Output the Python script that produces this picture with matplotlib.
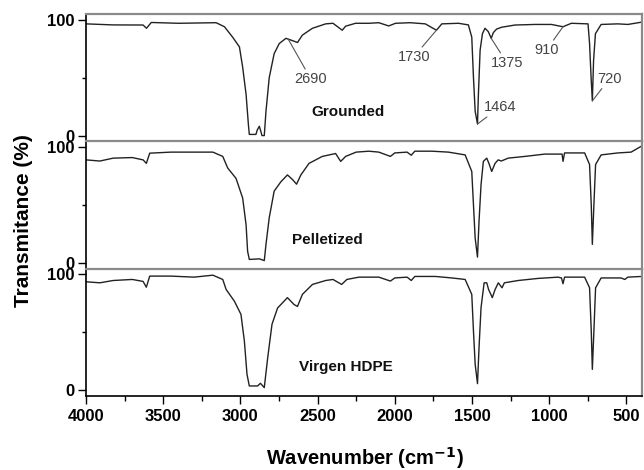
import matplotlib
matplotlib.use("Agg")
import matplotlib.pyplot as plt
from matplotlib.ticker import MultipleLocator
import numpy as np

plt.rcParams['font.family'] = ['Liberation Sans', 'DejaVu Sans']

# FTIR spectra (wavenumber in cm-1, transmittance in %)
wn_grounded = [4000, 3826, 3630, 3608, 3577, 3400, 3157, 3103, 3050, 3006, 2985, 2963,
               2948, 2942, 2899, 2890, 2877, 2866, 2860, 2845, 2834, 2813, 2781, 2748,
               2705, 2662, 2630, 2598, 2533, 2447, 2400, 2340, 2318, 2254, 2168, 2103,
               2039, 1995, 1900, 1802, 1730, 1695, 1587, 1523, 1501, 1490, 1479, 1464,
               1458, 1447, 1432, 1415, 1394, 1375, 1361, 1340, 1307, 1221, 1092, 985,
               910, 856, 748, 738, 728, 720, 712, 700, 663, 555, 490, 400]
tr_grounded = [96.5, 95.6, 95.5, 92.7, 97.7, 97, 97.5, 94, 85, 76.6, 59, 35.7,
               9.6, 1, 1, 5, 8, 3, 0, 0, 21, 50, 70.8, 79.5,
               84, 82, 80.4, 86.8, 92.7, 96.5, 97, 91, 94.5, 97, 97, 97.5,
               94.7, 97, 97.5, 96.5, 91, 96.5, 97, 95.6, 85, 50, 21, 10,
               35.7, 73.7, 88, 92.7, 89.8, 84, 89, 92, 93.6, 95.5, 96, 96,
               94, 97, 96.5, 79.5, 50, 30, 65, 88, 96, 96.5, 96, 98]

wn_pellet = [4000, 3910, 3824, 3700, 3630, 3609, 3587, 3450, 3178, 3114, 3082, 3028,
             2985, 2963, 2953, 2942, 2877, 2845, 2834, 2813, 2781, 2738, 2695, 2662,
             2636, 2608, 2555, 2469, 2383, 2350, 2318, 2250, 2168, 2103, 2028, 2000,
             1920, 1893, 1870, 1759, 1652, 1544, 1501, 1490, 1479, 1464, 1454, 1441,
             1426, 1404, 1390, 1372, 1350, 1330, 1310, 1265, 1157, 1028, 916, 910,
             900, 770, 738, 727, 720, 710, 699, 663, 555, 469, 400]
tr_pellet = [89, 88, 90.5, 91, 89, 86, 94.8, 95.7, 95.7, 92, 82, 73,
             56, 33, 10, 3, 3.5, 2, 16, 39, 62, 70, 76, 72,
             68, 76, 86, 92, 94.5, 87.7, 92, 95.7, 96.5, 95.7, 92, 95,
             95.7, 93, 96.5, 96.5, 95.7, 93.3, 79, 50, 21.5, 5, 36, 67.5,
             87.7, 90.5, 86, 79, 86, 89, 88, 90.5, 92, 94, 94, 87.7,
             95, 95, 85, 50, 16, 50, 85, 93.3, 95, 95.7, 101]

wn_virgen = [4000, 3910, 3824, 3700, 3630, 3609, 3587, 3450, 3300, 3178, 3114, 3092,
             3039, 2996, 2974, 2957, 2942, 2888, 2870, 2845, 2823, 2795, 2759, 2695,
             2652, 2630, 2598, 2533, 2447, 2400, 2344, 2310, 2232, 2103, 2028, 2000,
             1920, 1893, 1870, 1737, 1630, 1544, 1501, 1490, 1479, 1464, 1454, 1441,
             1421, 1404, 1392, 1368, 1350, 1329, 1305, 1290, 1200, 1071, 942, 920,
             910, 900, 770, 738, 727, 720, 710, 699, 663, 534, 510, 490, 400]
tr_virgen = [93.7, 92.8, 94.8, 95.7, 94, 89, 98.6, 98.6, 97.7, 99.4, 95.7, 87,
             77, 65.5, 42.5, 13.8, 3.7, 3.7, 6, 2.3, 28, 57, 71, 80,
             74, 72.4, 82.8, 91.4, 94.8, 95.7, 91.4, 95.7, 97.7, 97.7, 94.3, 97,
             97.7, 94.8, 98.3, 98.3, 97, 95.7, 82.8, 51, 22.4, 5.7, 36.8, 71.3,
             92.8, 92.8, 87, 80, 87, 92.8, 88.5, 92.8, 94.8, 96.6, 97.7, 97,
             92, 97.7, 97.7, 88.5, 51, 18, 51, 88.5, 97, 97, 95.7, 97.7, 98.3]

spectra = [("Grounded", wn_grounded, tr_grounded, 2303),
           ("Pelletized", wn_pellet, tr_pellet, 2439),
           ("Virgen HDPE", wn_virgen, tr_virgen, 2318)]

# band assignments marked on the grounded sample: (band, label x, label y)
bands = [2690, 1730, 1375, 910, 720, 1464]
band_text_x = [2544, 1877, 1275, 1017, 609, 1318]
band_text_y = [49, 68, 63, 74, 49, 24.5]

fig = plt.figure(figsize=(6.44, 4.70), dpi=100)

left, width = 0.1335, 0.863
bottom, height = 0.1574, 0.27092
axes = []
for i in range(3):
    y0 = bottom + (2 - i) * height
    axes.append(fig.add_axes([left, y0, width, height]))

tick_font = dict(fontsize=12, fontweight='bold')

for i, (ax, (name, wn, tr, name_x)) in enumerate(zip(axes, spectra)):
    ax.plot(wn, tr, color='#222222', lw=1.0)
    ax.set_xlim(4000, 400)
    ax.set_ylim(-5, 105)
    ax.set_yticks([0, 100])
    ax.yaxis.set_minor_locator(MultipleLocator(50))
    ax.set_yticklabels(['0', '100'], **tick_font)
    ax.tick_params(axis='y', which='major', direction='out', length=6, width=1, pad=2)
    ax.tick_params(axis='y', which='minor', direction='out', length=3, width=1)
    ax.text(name_x, 20, name, ha='center', va='center', fontsize=11,
            fontweight='bold', color='#111111')

    for side in ['top', 'right']:
        ax.spines[side].set_color('#8a8a8a')
        ax.spines[side].set_linewidth(1.6)
    ax.spines['left'].set_color('black')
    ax.spines['left'].set_linewidth(1.2)
    if i < 2:
        ax.spines['bottom'].set_visible(False)
        ax.set_xticks([])
    else:
        ax.spines['bottom'].set_color('black')
        ax.spines['bottom'].set_linewidth(1.2)
        ax.set_xticks(np.arange(4000, 499, -500))
        ax.xaxis.set_minor_locator(MultipleLocator(250))
        ax.set_xticklabels([str(v) for v in range(4000, 499, -500)], **tick_font)
        ax.tick_params(axis='x', which='major', direction='out', length=6, width=1, pad=3)
        ax.tick_params(axis='x', which='minor', direction='out', length=3.5, width=1)

ax_top = axes[0]
for band, tx, ty in zip(bands, band_text_x, band_text_y):
    yb = np.interp(band, wn_grounded[::-1], tr_grounded[::-1])
    ax_top.annotate(str(band), xy=(band, yb), xytext=(tx, ty),
                    ha='center', va='center', fontsize=10.5, color='#444444',
                    arrowprops=dict(arrowstyle='-', color='#555555', lw=0.8,
                                    shrinkA=0, shrinkB=0))

fig.text(0.036, 0.53, 'Transmitance (%)', rotation=90, ha='center', va='center',
         fontsize=15, fontweight='bold')
fig.text(0.567, 0.026, 'Wavenumber (cm$^{\\mathbf{-1}}$)', ha='center', va='center',
         fontsize=14.5, fontweight='bold')

fig.savefig('out.png', dpi=100)
